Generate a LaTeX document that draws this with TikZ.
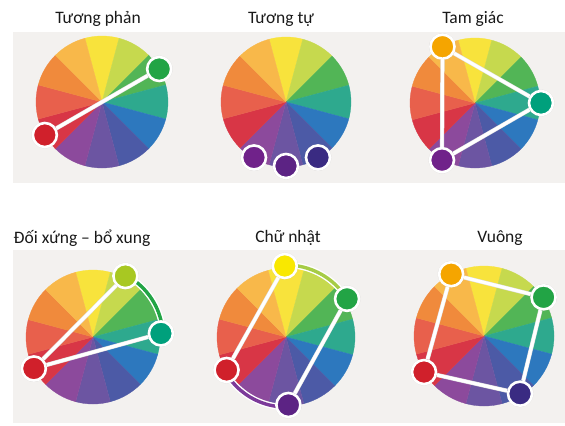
\documentclass[tikz,border=0pt]{standalone}
\usepackage{fontspec}
\setmainfont{Carlito}
\usetikzlibrary{shadows}

\definecolor{panelgray}{HTML}{F3F1EF}
\definecolor{cwY}{HTML}{F8E33C}
\definecolor{cwYG}{HTML}{C6D94E}
\definecolor{cwG}{HTML}{52B556}
\definecolor{cwBG}{HTML}{2EA98E}
\definecolor{cwB}{HTML}{2D78BE}
\definecolor{cwBV}{HTML}{4C5AA6}
\definecolor{cwV}{HTML}{6C55A2}
\definecolor{cwRV}{HTML}{8C4A9C}
\definecolor{cwR}{HTML}{D83646}
\definecolor{cwRO}{HTML}{E8604C}
\definecolor{cwO}{HTML}{F08A3C}
\definecolor{cwYO}{HTML}{F8B84A}
\definecolor{dotred}{HTML}{D0202B}
\definecolor{dotgreen}{HTML}{22A445}
\definecolor{dotteal}{HTML}{00A07C}
\definecolor{dotorange}{HTML}{F5A500}
\definecolor{dotyellow}{HTML}{F9E800}
\definecolor{dotlime}{HTML}{A8C822}
\definecolor{dotpurple}{HTML}{70228A}
\definecolor{dotviolet}{HTML}{5C2384}
\definecolor{dotindigo}{HTML}{3A2B82}
\definecolor{bandlime}{HTML}{A6CC46}
\definecolor{bandpurple}{HTML}{7C3A9A}

\tikzset{
  panel/.style={fill=panelgray},
  title/.style={font=\fontsize{17.5bp}{20bp}\selectfont, text=black!90, inner sep=0pt, anchor=base},
  dot/.style={circle, draw=white, line width=2.6bp, minimum size=24bp, inner sep=0pt,
    drop shadow={opacity=.18, shadow xshift=0bp, shadow yshift=0bp, shadow scale=1.12}},
  link/.style={draw=black!12, double=white, double distance=3.2bp, line width=.5bp},
  band/.style={draw=white, line width=1.4bp, double distance=3.4bp},
}

% twelve slices round a hub: #1 hub, #2 radius
\newcommand\colorwheel[2]{%
  \foreach \ang/\col in {90/cwY, 60/cwYG, 30/cwG, 0/cwBG, -30/cwB, -60/cwBV,
      -90/cwV, -120/cwRV, -150/cwR, 180/cwRO, 150/cwO, 120/cwYO}
    \filldraw[fill=\col, draw=\col, line width=.3bp] (#1) -- ([shift={(\ang-15:#2)}]#1)
      arc[start angle=\ang-15, end angle=\ang+15, radius=#2] -- cycle;
}

\begin{document}
\begin{tikzpicture}[x=1bp, y=1bp]
\useasboundingbox[fill=white] (0,0) rectangle (565,425);
\fill[panel] (13,393) rectangle (565,242);
\fill[panel] (13,175) rectangle (565,2);

% titles
\node[title] (t1) at (98,401) {Tương phản};
\node[title] (t2) at (281,401) {Tương tự};
\node[title] (t3) at (473,401) {Tam giác};
\node[title] (t4) at (82,182) {Đối xứng – bổ xung};
\node[title] (t5) at (288,183) {Chữ nhật};
\node[title] (t6) at (500,183) {Vuông};

% Tuong phan
\coordinate (w1) at (102,323);
\colorwheel{w1}{66}
\node[dot, fill=dotgreen] (g1) at ([shift={(30:66)}]w1) {};
\node[dot, fill=dotred] (r1) at ([shift={(210:66)}]w1) {};
\draw[link] (r1) -- (g1);

% Tuong tu
\coordinate (w2) at (286,323);
\colorwheel{w2}{65}
\node[dot, fill=dotpurple] (p2) at ([shift={(-120:64)}]w2) {};
\node[dot, fill=dotviolet] (v2) at ([shift={(-90:64)}]w2) {};
\node[dot, fill=dotindigo] (i2) at ([shift={(-60:64)}]w2) {};

% Tam giac
\coordinate (w3) at (475,322);
\colorwheel{w3}{65}
\node[dot, fill=dotorange] (o3) at ([shift={(120:65)}]w3) {};
\node[dot, fill=dotteal] (t3b) at ([shift={(0:66)}]w3) {};
\node[dot, fill=dotpurple] (p3) at ([shift={(240:66)}]w3) {};
\draw[link] (o3) -- (t3b);
\draw[link] (t3b) -- (p3);
\draw[link] (p3) -- (o3);

% Doi xung - bo xung
\coordinate (w4) at (93,88);
\colorwheel{w4}{67}
\draw[band, double=dotgreen] ([shift={(54:70)}]w4) arc[start angle=54, end angle=10, radius=70];
\node[dot, fill=dotlime] (l4) at ([shift={(62:69)}]w4) {};
\node[dot, fill=dotteal] (t4b) at ([shift={(3:68)}]w4) {};
\node[dot, fill=dotred] (r4) at ([shift={(208:67)}]w4) {};
\draw[link] (r4) -- (l4);
\draw[link] (r4) -- (t4b);

% Chu nhat
\coordinate (w5) at (286,88);
\colorwheel{w5}{69}
\draw[band, double=bandlime] ([shift={(84:72)}]w5) arc[start angle=84, end angle=38, radius=72];
\draw[band, double=bandpurple] ([shift={(216:70)}]w5) arc[start angle=216, end angle=262, radius=70];
\node[dot, fill=dotyellow] (y5) at ([shift={(91:71)}]w5) {};
\node[dot, fill=dotgreen] (g5) at ([shift={(32:72)}]w5) {};
\node[dot, fill=dotred] (r5) at ([shift={(209:68)}]w5) {};
\node[dot, fill=dotviolet] (v5) at ([shift={(-88:68)}]w5) {};
\draw[link] (y5) -- (r5);
\draw[link] (g5) -- (v5);

% Vuong
\coordinate (w6) at (484,89);
\colorwheel{w6}{70}
\node[dot, fill=dotorange] (o6) at ([shift={(118:70)}]w6) {};
\node[dot, fill=dotgreen] (g6) at ([shift={(33:71)}]w6) {};
\node[dot, fill=dotindigo] (i6) at ([shift={(-58:68)}]w6) {};
\node[dot, fill=dotred] (r6) at ([shift={(211:70)}]w6) {};
\draw[link] (o6) -- (g6);
\draw[link] (g6) -- (i6);
\draw[link] (i6) -- (r6);
\draw[link] (r6) -- (o6);
\end{tikzpicture}
\end{document}
